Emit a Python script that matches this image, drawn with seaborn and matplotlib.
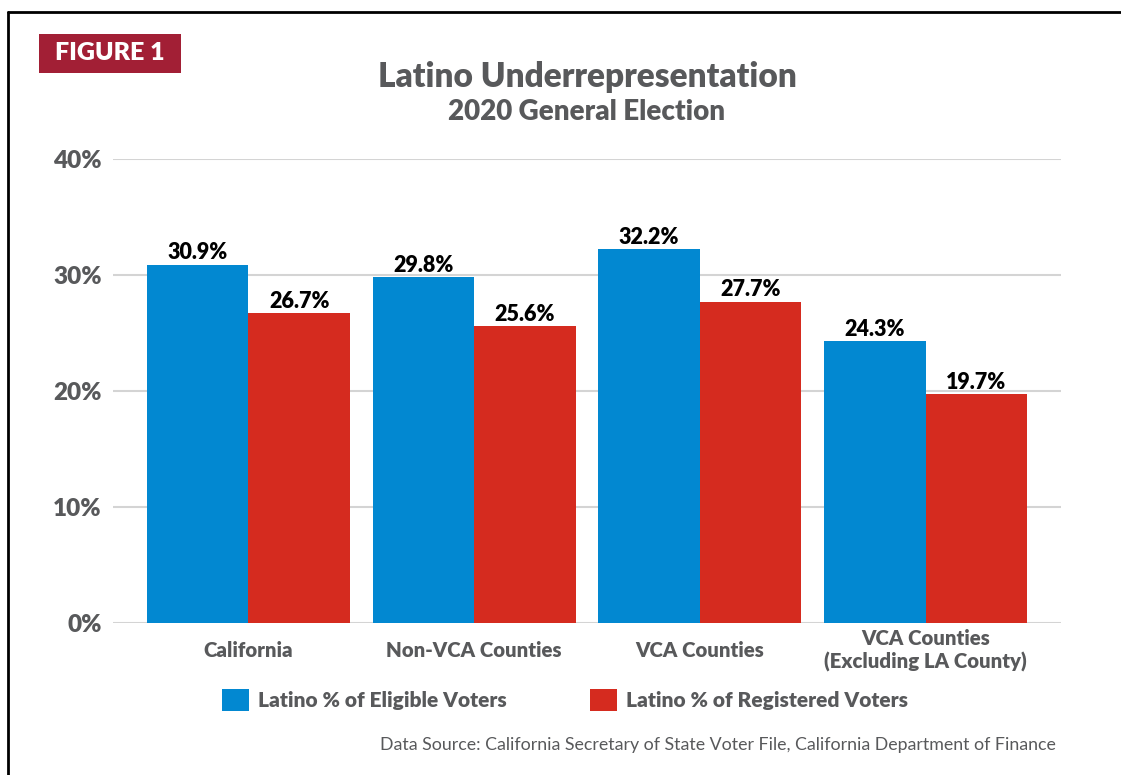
import matplotlib
matplotlib.use("Agg")
import matplotlib.pyplot as plt
from matplotlib.patches import Patch, Rectangle
import pandas as pd
import seaborn as sns

# Data
categories = ["California", "Non-VCA Counties", "VCA Counties",
              "VCA Counties\n(Excluding LA County)"]
series_names = ["Latino % of Eligible Voters", "Latino % of Registered Voters"]
eligible = [30.9, 29.8, 32.2, 24.3]
registered = [26.7, 25.6, 27.7, 19.7]
y_ticks = [0, 10, 20, 30, 40]
y_tick_labels = ["0%", "10%", "20%", "30%", "40%"]

BLUE = "#0288D1"
RED = "#D52B1F"
MAROON = "#A21F35"
GRAY = "#58595B"
GRID = "#D4D4D4"
FONT = "Lato"
FAMILY = [FONT, "DejaVu Sans"]
HEAVY = 800

df = pd.DataFrame({
    "category": categories * 2,
    "series": [series_names[0]] * len(categories) + [series_names[1]] * len(categories),
    "value": eligible + registered,
})

sns.set_theme(style="white")
plt.rcParams["font.family"] = FAMILY

fig = plt.figure(figsize=(11.21, 7.75), dpi=100)
ax = fig.add_axes([113 / 1121, 1 - 623 / 775, (1061 - 113) / 1121, (623 - 159) / 775])

sns.barplot(data=df, x="category", y="value", hue="series", order=categories,
            hue_order=series_names, palette=[BLUE, RED], width=0.9,
            saturation=1, legend=False, ax=ax, zorder=3)

for bar in ax.patches:
    bar.set_linewidth(0)

# Value labels above each bar
for container in ax.containers:
    ax.bar_label(container, fmt="%.1f%%", padding=1, fontsize=15.5,
                 fontweight=HEAVY, color="black", family=FAMILY)

ax.set_xlim(-0.6, 3.6)
ax.set_ylim(0, 40)
ax.set_yticks(y_ticks)
ax.set_yticklabels(y_tick_labels, fontsize=17.5, fontweight=HEAVY, color=GRAY)
ax.yaxis.grid(True, color=GRID, linewidth=1.5, zorder=0)
ax.xaxis.grid(False)
ax.set_axisbelow(True)
ax.tick_params(axis="y", length=0, pad=8)
ax.tick_params(axis="x", length=0, pad=20)
ax.set_xticks(range(len(categories)))
ax.set_xticklabels(categories, fontsize=14.7, fontweight=HEAVY, color=GRAY,
                   linespacing=1.25)
for lbl in ax.get_xticklabels():
    lbl.set_verticalalignment("center")
ax.set_xlabel("")
ax.set_ylabel("")
for side in ax.spines.values():
    side.set_visible(False)

# Titles
fig.text(587 / 1121, 1 - 77 / 775, "Latino Underrepresentation", ha="center",
         va="center", fontsize=24, fontweight=HEAVY, color=GRAY)
fig.text(587 / 1121, 1 - 112 / 775, "2020 General Election", ha="center",
         va="center", fontsize=20, fontweight=HEAVY, color=GRAY)

# Figure tag
fig.patches.append(Rectangle((39 / 1121, 1 - 73 / 775), 142 / 1121, 39 / 775,
                             transform=fig.transFigure, facecolor=MAROON,
                             edgecolor="none", zorder=2))
fig.text(110 / 1121, 1 - 53.5 / 775, "FIGURE 1", ha="center", va="center",
         fontsize=18, fontweight=HEAVY, color="white", zorder=3)

# Outer frame (open on the right and bottom)
fig.add_artist(plt.Line2D([7.5 / 1121, 7.5 / 1121], [0, 1 - 12 / 775],
                          transform=fig.transFigure, color="black", linewidth=2))
fig.add_artist(plt.Line2D([7.5 / 1121, 1], [1 - 12 / 775, 1 - 12 / 775],
                          transform=fig.transFigure, color="black", linewidth=2))

# Legend
handles = [Patch(facecolor=BLUE, edgecolor="none"), Patch(facecolor=RED, edgecolor="none")]
leg = fig.legend(handles, series_names, loc="center",
                 bbox_to_anchor=(565 / 1121, 1 - 700 / 775), ncol=2,
                 frameon=False, handlelength=1.3, handleheight=1.3,
                 handletextpad=0.45, columnspacing=4.0,
                 prop={"family": FAMILY, "weight": HEAVY, "size": 15})
for t in leg.get_texts():
    t.set_color(GRAY)

# Source note
fig.text(1056 / 1121, 1 - 745 / 775,
         "Data Source: California Secretary of State Voter File, California Department of Finance",
         ha="right", va="center", fontsize=12.8, color=GRAY)

fig.savefig("out.png", dpi=100)
